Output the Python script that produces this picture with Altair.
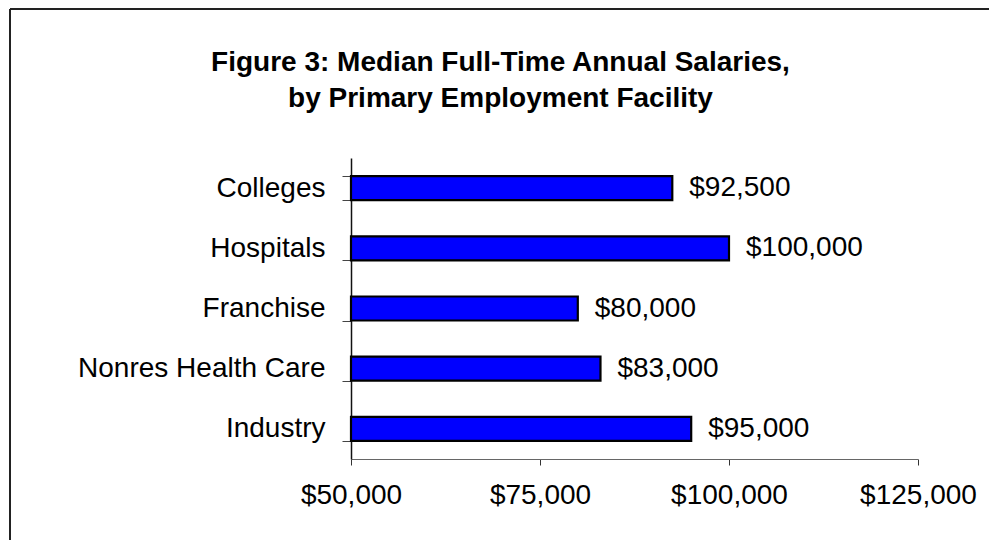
import altair as alt
import pandas as pd

categories = ["Colleges", "Hospitals", "Franchise", "Nonres Health Care", "Industry"]
salaries = [92500, 100000, 80000, 83000, 95000]
x_ticks = [50000, 75000, 100000, 125000]
title_lines = ["Figure 3: Median Full-Time Annual Salaries,", "by Primary Employment  Facility"]

df = pd.DataFrame({"facility": categories, "salary": salaries})

FONT = "Liberation Sans"
W, H = 567, 301

y_enc = alt.Y(
    "facility:N",
    sort=categories,
    title=None,
    scale=alt.Scale(paddingInner=0.6, paddingOuter=0.3),
    axis=alt.Axis(
        tickBand="extent",
        tickSize=9,
        tickColor="#444",
        domainColor="#111",
        domainWidth=1.5,
        labelFont=FONT,
        labelFontSize=28,
        labelColor="#000",
        labelPadding=17,
        labelLimit=400,
    ),
)

x_scale = alt.Scale(domain=[50000, 125000], zero=False, nice=False)

bars = alt.Chart(df).mark_bar(
    size=24, color="#0000FF", stroke="#000", strokeWidth=2.2
).encode(
    x=alt.X(
        "salary:Q",
        scale=x_scale,
        title=None,
        axis=alt.Axis(
            values=x_ticks,
            format="$,.0f",
            grid=False,
            tickSize=6,
            tickColor="#333",
            domainColor="#666",
            labelFont=FONT,
            labelFontSize=28,
            labelColor="#000",
            labelPadding=16,
            labelFlush=False,
        ),
    ),
    x2=alt.datum(50000),
    y=y_enc,
)

labels = alt.Chart(df).mark_text(
    align="left", baseline="middle", dx=17, font=FONT, fontSize=28, color="#000"
).encode(
    x=alt.X("salary:Q", scale=x_scale),
    y=alt.Y("facility:N", sort=categories),
    text=alt.Text("salary:Q", format="$,.0f"),
)

frame_top = alt.Chart(df).mark_rule(color="#222", strokeWidth=2).encode(
    x=alt.value(-341), x2=alt.value(700), y=alt.value(-149)
)
frame_left = alt.Chart(df).mark_rule(color="#222", strokeWidth=2).encode(
    x=alt.value(-341), y=alt.value(-149), y2=alt.value(420)
)

chart = alt.layer(frame_top, frame_left, bars, labels).properties(
    width=W,
    height=H,
    autosize=alt.AutoSizeParams(type="none"),
    padding={"left": 343, "top": 150, "right": 71, "bottom": 81},
    title=alt.TitleParams(
        text=title_lines,
        font=FONT,
        fontSize=28,
        fontWeight="bold",
        color="#000",
        anchor="middle",
        frame="group",
        dx=-134,
        lineHeight=36,
        offset=-105,
    ),
).configure_view(stroke=None)

chart.save("out.html", embed_options={"renderer": "svg", "actions": False})
